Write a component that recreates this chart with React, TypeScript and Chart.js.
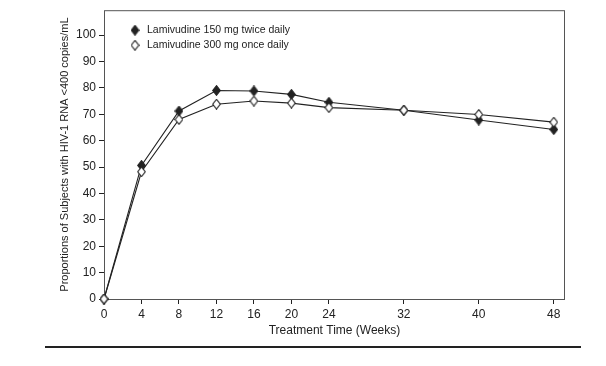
import React, { useEffect, useRef } from "react";
import { Chart, registerables } from "chart.js";

Chart.register(...registerables);

const weeks = [0, 4, 8, 12, 16, 20, 24, 32, 40, 48];
const twiceDaily = [0, 50.6, 71.2, 79, 78.8, 77.5, 74.5, 71.5, 67.8, 64.2];
const onceDaily = [0, 48.2, 68, 73.8, 75, 74.2, 72.5, 71.5, 69.9, 67];
const xTicks = [0, 4, 8, 12, 16, 20, 24, 32, 40, 48];
const yTicks = [0, 10, 20, 30, 40, 50, 60, 70, 80, 90, 100];
const seriesLabels = ["Lamivudine 150 mg twice daily", "Lamivudine 300 mg once daily"];

const FONT = "'Liberation Sans', Arial, sans-serif";
const INK = "#222";

function makeDiamond(filled: boolean): HTMLCanvasElement {
  const w = 9, h = 11;
  const c = document.createElement("canvas");
  c.width = w;
  c.height = h;
  const ctx = c.getContext("2d")!;
  ctx.beginPath();
  ctx.moveTo(w / 2, 0.7);
  ctx.lineTo(w - 0.7, h / 2);
  ctx.lineTo(w / 2, h - 0.7);
  ctx.lineTo(0.7, h / 2);
  ctx.closePath();
  ctx.fillStyle = filled ? INK : "#fff";
  ctx.fill();
  ctx.lineWidth = 1.1;
  ctx.strokeStyle = INK;
  ctx.stroke();
  return c;
}

export default function App() {
  const ref = useRef<HTMLCanvasElement>(null);
  useEffect(() => {
    const filled = makeDiamond(true);
    const open = makeDiamond(false);
    const frame = {
      id: "frame",
      beforeDatasetsDraw(chart: any) {
        const { ctx, chartArea } = chart;
        ctx.save();
        ctx.strokeStyle = "#555";
        ctx.lineWidth = 1;
        ctx.strokeRect(chartArea.left + 0.5, chartArea.top + 0.5, chartArea.right - chartArea.left - 1, chartArea.bottom - chartArea.top);
        ctx.restore();
      },
    };
    const decor = {
      id: "decor",
      afterDraw(chart: any) {
        const { ctx, chartArea } = chart;
        ctx.save();
        const imgs = [filled, open];
        ctx.font = "10.5px " + FONT;
        ctx.fillStyle = INK;
        ctx.textBaseline = "middle";
        seriesLabels.forEach((lab, i) => {
          const cy = chartArea.top + 20 + i * 15;
          const cx = chartArea.left + 31;
          ctx.drawImage(imgs[i], cx - imgs[i].width / 2, cy - imgs[i].height / 2);
          ctx.fillText(lab, cx + 12, cy);
        });
        ctx.fillStyle = INK;
        ctx.fillRect(45, 346, 536, 2);
        ctx.restore();
      },
    };
    const chart = new Chart(ref.current!, {
      type: "line",
      data: {
        datasets: [
          {
            label: seriesLabels[0],
            data: weeks.map((w, i) => ({ x: w, y: twiceDaily[i] })),
            borderColor: INK,
            borderWidth: 1.1,
            pointStyle: filled,
            backgroundColor: INK,
            clip: false,
            order: 1,
          },
          {
            label: seriesLabels[1],
            data: weeks.map((w, i) => ({ x: w, y: onceDaily[i] })),
            borderColor: INK,
            borderWidth: 1.1,
            pointStyle: open,
            backgroundColor: "#fff",
            clip: false,
            order: 0,
          },
        ],
      },
      options: {
        responsive: false,
        animation: false,
        layout: { padding: { left: 0, top: 8, right: 41, bottom: 17 } },
        plugins: { legend: { display: false }, tooltip: { enabled: false } },
        scales: {
          x: {
            type: "linear",
            min: 0,
            max: 49.2,
            afterBuildTicks: (s: any) => {
              s.ticks = xTicks.map((v) => ({ value: v }));
            },
            afterFit: (s: any) => {
              s.height = 50;
            },
            border: { display: false },
            grid: { drawOnChartArea: false, drawTicks: true, tickLength: 5, color: INK },
            ticks: { color: INK, padding: 3, maxRotation: 0, autoSkip: false, font: { family: FONT, size: 12 } },
            title: {
              display: true,
              text: "Treatment Time (Weeks)",
              color: INK,
              font: { family: FONT, size: 12 },
              padding: { top: 0, bottom: 10.8 },
            },
          },
          y: {
            min: 0,
            max: 109.4,
            afterBuildTicks: (s: any) => {
              s.ticks = yTicks.map((v) => ({ value: v }));
            },
            afterFit: (s: any) => {
              s.width = 104;
            },
            border: { display: false },
            grid: { drawOnChartArea: false, drawTicks: true, tickLength: 5, color: INK },
            ticks: { color: INK, padding: 3, autoSkip: false, font: { family: FONT, size: 12 } },
            title: {
              display: true,
              text: "Proportions of Subjects with HIV-1 RNA <400 copies/mL",
              color: INK,
              font: { family: FONT, size: 11 },
              padding: { top: 58.4, bottom: 0 },
            },
          },
        },
      },
      plugins: [frame, decor],
    } as any);
    return () => chart.destroy();
  }, []);
  return (
    <div style={{ position: "fixed", left: 0, top: 0, width: 606, height: 366, background: "#fff" }}>
      <canvas ref={ref} width={606} height={366} style={{ display: "block" }} />
    </div>
  );
}
